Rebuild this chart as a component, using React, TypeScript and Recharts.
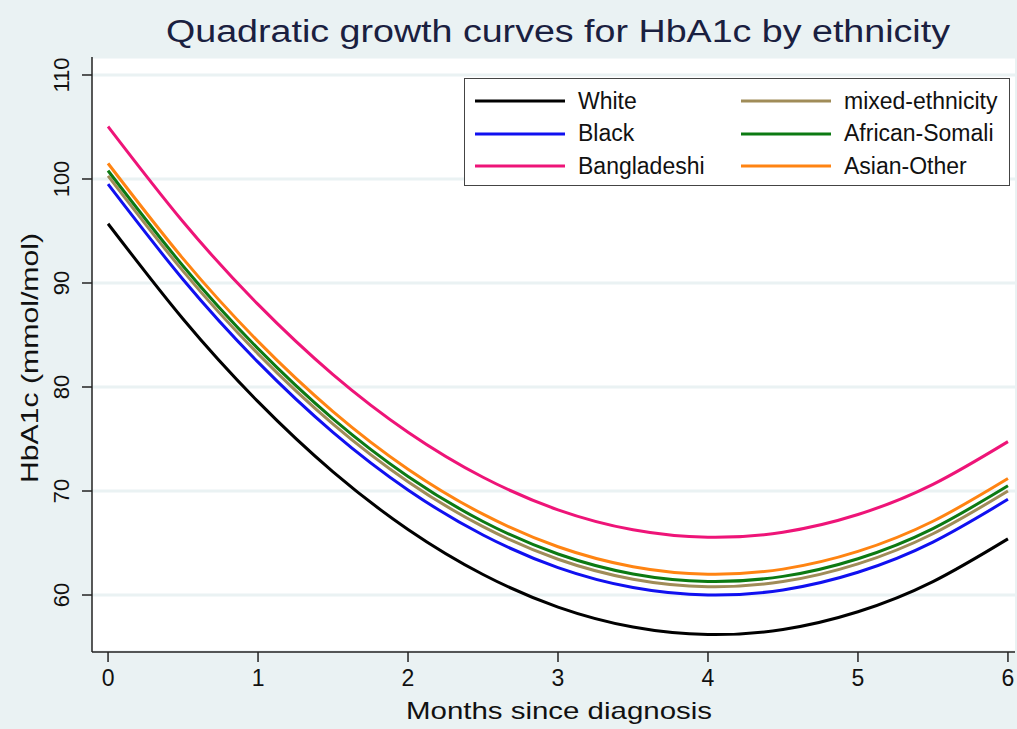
import React from "react";
import { LineChart, Line, XAxis, YAxis, CartesianGrid, Legend } from "recharts";

// months since diagnosis (sample points)
const MONTHS = [0, 0.5, 1, 1.5, 2, 2.5, 3, 3.5, 4, 4.5, 5, 5.5, 6];

const WHITE = [95.7, 86.54, 78.59, 71.84, 66.3, 61.97, 58.84, 56.92, 56.2, 56.69, 58.39, 61.29, 65.4];
const BLACK = [99.5, 90.34, 82.39, 75.64, 70.1, 65.77, 62.64, 60.72, 60.0, 60.49, 62.19, 65.09, 69.2];
const BANGLADESHI = [105.05, 95.89, 87.94, 81.19, 75.65, 71.32, 68.19, 66.27, 65.55, 66.04, 67.74, 70.64, 74.75];
const MIXED = [100.3, 91.14, 83.19, 76.44, 70.9, 66.57, 63.44, 61.52, 60.8, 61.29, 62.99, 65.89, 70.0];
const AFRICAN_SOMALI = [100.8, 91.64, 83.69, 76.94, 71.4, 67.07, 63.94, 62.02, 61.3, 61.79, 63.49, 66.39, 70.5];
const ASIAN_OTHER = [101.5, 92.34, 84.39, 77.64, 72.1, 67.77, 64.64, 62.72, 62.0, 62.49, 64.19, 67.09, 71.2];

const X_TICKS = [0, 1, 2, 3, 4, 5, 6];
const Y_TICKS = [60, 70, 80, 90, 100, 110];

const SERIES = [
  { key: "white", name: "White", color: "#000000", values: WHITE },
  { key: "black", name: "Black", color: "#1010f0", values: BLACK },
  { key: "bangladeshi", name: "Bangladeshi", color: "#ee1478", values: BANGLADESHI },
  { key: "mixed", name: "mixed-ethnicity", color: "#a08c58", values: MIXED },
  { key: "africanSomali", name: "African-Somali", color: "#0c7a12", values: AFRICAN_SOMALI },
  { key: "asianOther", name: "Asian-Other", color: "#ff8412", values: ASIAN_OTHER },
];

const data = MONTHS.map((m, i) => {
  const row: Record<string, number> = { month: m };
  SERIES.forEach(s => { row[s.key] = s.values[i]; });
  return row;
});

const FONT = "'Liberation Sans', Arial, sans-serif";
const BG = "#eaf2f3";

function YTick({ x, y, payload }: any) {
  return (
    <text
      x={x}
      y={y}
      transform={`rotate(-90 ${x} ${y})`}
      textAnchor="middle"
      fontSize={22}
      fontFamily={FONT}
      fill="#111"
    >
      {payload.value}
    </text>
  );
}

// legend keeps series order, filled column by column
function LegendBox({ payload }: any) {
  const order = SERIES.map(s => s.name);
  const items = [...(payload || [])].sort(
    (a: any, b: any) => order.indexOf(a.value) - order.indexOf(b.value)
  );
  return (
    <div
      style={{
        width: 546,
        height: 108,
        boxSizing: "border-box",
        border: "1px solid #444",
        background: "#fff",
        paddingTop: 6,
        display: "grid",
        gridTemplateColumns: "266px 280px",
        gridTemplateRows: "repeat(3, 32.5px)",
        gridAutoFlow: "column",
        fontFamily: FONT,
      }}
    >
      {items.map((p: any) => (
        <div key={p.value} style={{ display: "flex", alignItems: "center" }}>
          <svg width={90} height={4} style={{ marginLeft: 10, marginRight: 13 }}>
            <line x1={0} y1={2} x2={90} y2={2} stroke={p.color} strokeWidth={3} />
          </svg>
          <span style={{ fontSize: 23, color: "#111", lineHeight: 1 }}>{p.value}</span>
        </div>
      ))}
    </div>
  );
}

export default function App() {
  return (
    <div style={{ position: "absolute", left: 0, top: 0, width: 1017, height: 729, background: BG }}>
      <LineChart
        width={1017}
        height={729}
        data={data}
        margin={{ top: 57, right: 2, bottom: 0, left: 0 }}
      >
        <CartesianGrid vertical={false} stroke={BG} strokeWidth={3} fill="#ffffff" />
        <XAxis
          dataKey="month"
          type="number"
          domain={[-0.107, 6.047]}
          ticks={X_TICKS}
          allowDataOverflow
          height={77}
          tickSize={10}
          tickMargin={8}
          axisLine={{ stroke: "#222", strokeWidth: 1.5 }}
          tickLine={{ stroke: "#222", strokeWidth: 1.5 }}
          tick={{ fill: "#111", fontSize: 23, fontFamily: FONT }}
        />
        <YAxis
          type="number"
          domain={[54.52, 111.73]}
          ticks={Y_TICKS}
          allowDataOverflow
          width={92}
          tickSize={10}
          tickMargin={13}
          axisLine={{ stroke: "#222", strokeWidth: 1.5 }}
          tickLine={{ stroke: "#222", strokeWidth: 1.5 }}
          tick={<YTick />}
        />
        <Legend
          layout="horizontal"
          verticalAlign="middle"
          align="center"
          content={<LegendBox />}
          wrapperStyle={{ left: 464, top: 78, width: 546, height: 108 }}
        />
        {SERIES.map(s => (
          <Line
            key={s.key}
            dataKey={s.key}
            name={s.name}
            type="natural"
            stroke={s.color}
            strokeWidth={3}
            dot={false}
            activeDot={false}
            isAnimationActive={false}
          />
        ))}
      </LineChart>
      <svg
        width={1017}
        height={729}
        style={{ position: "absolute", left: 0, top: 0, pointerEvents: "none" }}
      >
        <text
          x={558}
          y={42}
          textAnchor="middle"
          fontSize={31}
          fontFamily={FONT}
          fill="#1a2040"
          textLength={784}
          lengthAdjust="spacingAndGlyphs"
        >
          Quadratic growth curves for HbA1c by ethnicity
        </text>
        <text
          x={559}
          y={719}
          textAnchor="middle"
          fontSize={24}
          fontFamily={FONT}
          fill="#111"
          textLength={306}
          lengthAdjust="spacingAndGlyphs"
        >
          Months since diagnosis
        </text>
        <text
          x={38}
          y={358}
          transform="rotate(-90 38 358)"
          textAnchor="middle"
          fontSize={24}
          fontFamily={FONT}
          fill="#111"
          textLength={250}
          lengthAdjust="spacingAndGlyphs"
        >
          HbA1c (mmol/mol)
        </text>
      </svg>
    </div>
  );
}
